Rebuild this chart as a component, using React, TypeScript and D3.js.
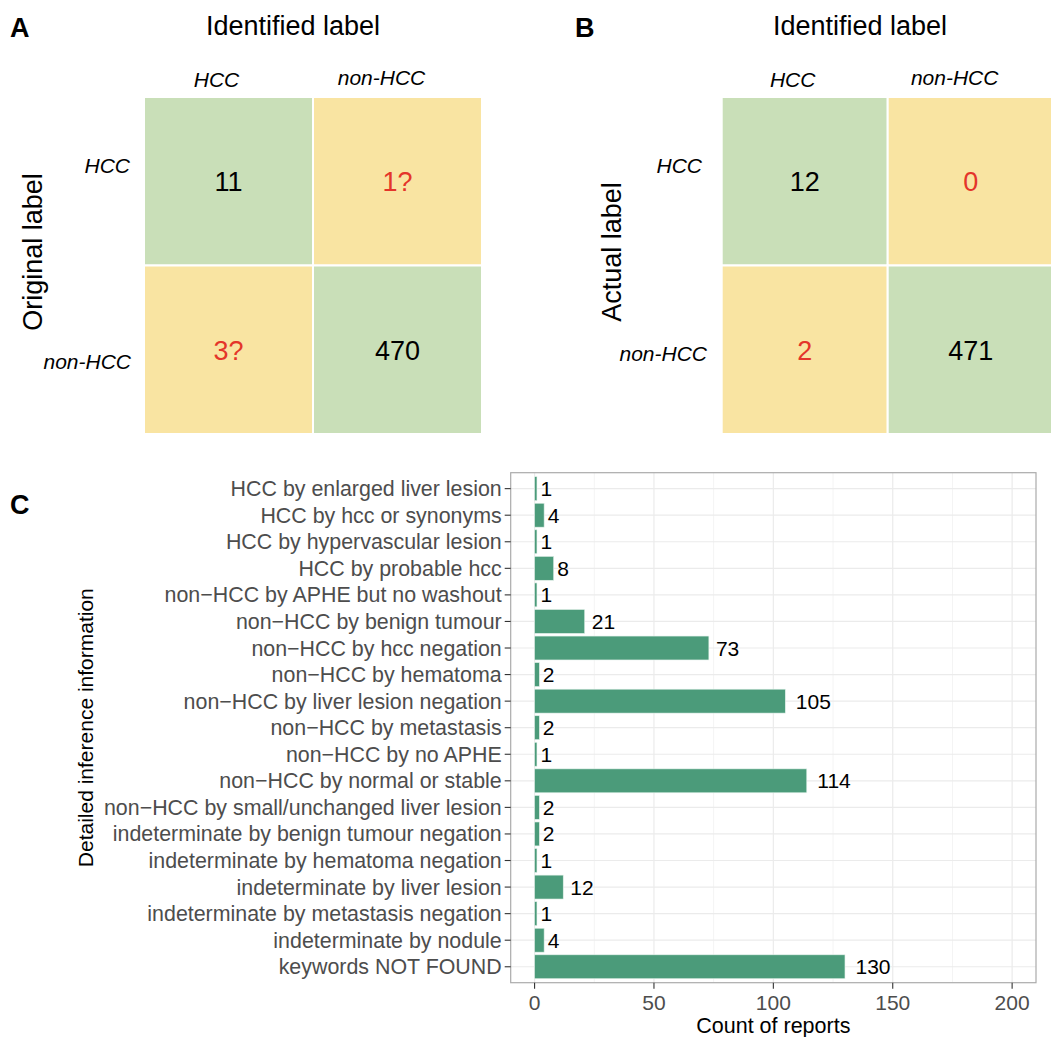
import React from "react";
import * as d3 from "d3";

const matrixLabels = ["HCC", "non-HCC"];
const matrixA = [
  ["11", "1?"],
  ["3?", "470"],
];
const matrixB = [
  ["12", "0"],
  ["2", "471"],
];

const categories = [
  "HCC by enlarged liver lesion",
  "HCC by hcc or synonyms",
  "HCC by hypervascular lesion",
  "HCC by probable hcc",
  "non\u2212HCC by APHE but no washout",
  "non\u2212HCC by benign tumour",
  "non\u2212HCC by hcc negation",
  "non\u2212HCC by hematoma",
  "non\u2212HCC by liver lesion negation",
  "non\u2212HCC by metastasis",
  "non\u2212HCC by no APHE",
  "non\u2212HCC by normal or stable",
  "non\u2212HCC by small/unchanged liver lesion",
  "indeterminate by benign tumour negation",
  "indeterminate by hematoma negation",
  "indeterminate by liver lesion",
  "indeterminate by metastasis negation",
  "indeterminate by nodule",
  "keywords NOT FOUND",
];
const counts = [1, 4, 1, 8, 1, 21, 73, 2, 105, 2, 1, 114, 2, 2, 1, 12, 1, 4, 130];
const xTicks = [0, 50, 100, 150, 200];
const xMinor = [25, 75, 125, 175];

const FONT = "'Liberation Sans', Arial, Helvetica, sans-serif";
const GREEN = "#c9dfb8";
const YELLOW = "#f9e4a2";
const RED = "#e4352a";

function Matrix({ x0, x1, y0, y1, values, title, ylab, letter, letterX, titleX, ylabX, rowLabelRight, rowLabelDy }) {
  const xs = d3.scaleBand().domain(matrixLabels).range([x0, x1]);
  const ys = d3.scaleBand().domain(matrixLabels).range([y0, y1]);
  const colOffsets = [-12, -16];
  const colBaselines = [87, 85];
  return (
    <g>
      <text x={letterX} y={37} fontSize={27} fontWeight="bold" fill="#000">{letter}</text>
      <text x={titleX} y={35} fontSize={27} textAnchor="middle" fill="#000">{title}</text>
      <text transform={`translate(${ylabX},252) rotate(-90)`} fontSize={27} textAnchor="middle" fill="#000">{ylab}</text>
      {matrixLabels.map((c, i) => (
        <text key={"c" + c} x={xs(c)! + xs.bandwidth() / 2 + colOffsets[i]} y={colBaselines[i]} fontSize={21} fontStyle="italic" textAnchor="middle" fill="#000">{c}</text>
      ))}
      {matrixLabels.map((r, i) => (
        <text key={"r" + r} x={rowLabelRight[i]} y={ys(r)! + ys.bandwidth() / 2 + rowLabelDy[i]} fontSize={21} fontStyle="italic" textAnchor="end" fill="#000">{r}</text>
      ))}
      {matrixLabels.map((r, i) =>
        matrixLabels.map((c, j) => (
          <g key={r + c}>
            <rect x={xs(c)} y={ys(r)} width={xs.bandwidth()} height={ys.bandwidth()} fill={i === j ? GREEN : YELLOW} stroke="#fff" strokeWidth={2} />
            <text x={xs(c)! + xs.bandwidth() / 2} y={ys(r)! + ys.bandwidth() / 2 + 10} fontSize={27} textAnchor="middle" fill={i === j ? "#000" : RED}>{values[i][j]}</text>
          </g>
        ))
      )}
    </g>
  );
}

function BarPanel() {
  const left = 510.7, right = 1036, top = 472.7, bottom = 982.7;
  const x = d3.scaleLinear().domain([-10, 210]).range([left, right]);
  const y = d3.scalePoint().domain(categories).range([top, bottom]).padding(0.6);
  const step = y.step();
  const barH = step * 0.9;
  const fs = 21;
  return (
    <g>
      <text x={10} y={514} fontSize={27} fontWeight="bold" fill="#000">C</text>
      <rect x={left} y={top} width={right - left} height={bottom - top} fill="#fff" />
      {xMinor.map((t) => (
        <line key={"m" + t} x1={x(t)} x2={x(t)} y1={top} y2={bottom} stroke="#f4f4f4" strokeWidth={1} />
      ))}
      {xTicks.map((t) => (
        <line key={"g" + t} x1={x(t)} x2={x(t)} y1={top} y2={bottom} stroke="#ebebeb" strokeWidth={1.2} />
      ))}
      {categories.map((c) => (
        <line key={"h" + c} x1={left} x2={right} y1={y(c)} y2={y(c)} stroke="#ebebeb" strokeWidth={1.2} />
      ))}
      {categories.map((c, i) => {
        const v = counts[i];
        const xe = x(v);
        const label = String(v);
        const w = label.length * 0.556 * fs;
        return (
          <g key={"b" + c}>
            <rect x={x(0)} y={y(c)! - barH / 2} width={xe - x(0)} height={barH} fill="#4b9b7a" stroke="#e3f1ea" strokeWidth={0.6} />
            <text x={xe + 0.3 * w} y={y(c)! + 7.5} fontSize={fs} fill="#000">{label}</text>
          </g>
        );
      })}
      <rect x={left} y={top} width={right - left} height={bottom - top} fill="none" stroke="#ababab" strokeWidth={1.2} />
      {categories.map((c) => (
        <g key={"yt" + c}>
          <line x1={left - 6} x2={left} y1={y(c)} y2={y(c)} stroke="#333" strokeWidth={1.1} />
          <text x={left - 9} y={y(c)! + 7.5} fontSize={21.4} textAnchor="end" fill="#4d4d4d">{c}</text>
        </g>
      ))}
      {xTicks.map((t) => (
        <g key={"xt" + t}>
          <line x1={x(t)} x2={x(t)} y1={bottom} y2={bottom + 6} stroke="#333" strokeWidth={1.1} />
          <text x={x(t)} y={1010} fontSize={fs} textAnchor="middle" fill="#4d4d4d">{t}</text>
        </g>
      ))}
      <text x={(left + right) / 2} y={1033} fontSize={21.5} textAnchor="middle" fill="#000">Count of reports</text>
      <text transform={`translate(93,${(top + bottom) / 2}) rotate(-90)`} fontSize={21} textAnchor="middle" fill="#000">Detailed inference information</text>
    </g>
  );
}

export default function App() {
  return (
    <svg width={1051} height={1037} style={{ position: "absolute", left: 0, top: 0, background: "#fff" }} fontFamily={FONT}>
      <rect x={0} y={0} width={1051} height={1037} fill="#fff" />
      <Matrix x0={144} x1={482} y0={97} y1={434} values={matrixA} title="Identified label" ylab="Original label" letter="A" letterX={10} titleX={293} ylabX={42} rowLabelRight={[130, 131]} rowLabelDy={[-8.5, 19]} />
      <Matrix x0={721.7} x1={1053.7} y0={97} y1={434} values={matrixB} title="Identified label" ylab="Actual label" letter="B" letterX={575} titleX={860} ylabX={621} rowLabelRight={[702, 707]} rowLabelDy={[-8.5, 11]} />
      <BarPanel />
    </svg>
  );
}
